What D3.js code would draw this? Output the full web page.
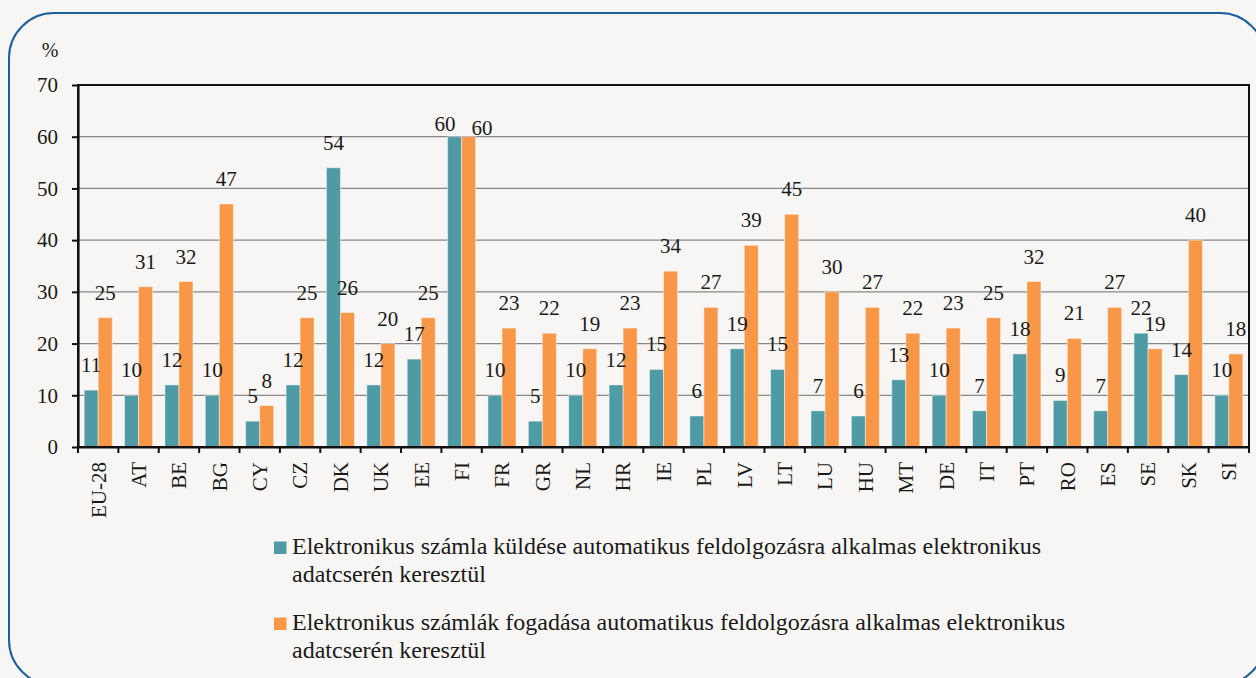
<!DOCTYPE html>
<html>
<head>
<meta charset="utf-8">
<script src="https://cdn.jsdelivr.net/npm/d3@7"></script>
<style>
  html, body { margin: 0; padding: 0; background: #f7f6f4; }
  svg { display: block; }
  svg text { font-family: 'Liberation Serif', 'DejaVu Serif', serif; fill: #1a1a1a; }
</style>
</head>
<body>
<svg id="chart" width="1256" height="678"></svg>
<script>
const categories = ["EU-28", "AT", "BE", "BG", "CY", "CZ", "DK", "UK", "EE", "FI", "FR", "GR", "NL", "HR", "IE",
  "PL", "LV", "LT", "LU", "HU", "MT", "DE", "IT", "PT", "RO", "ES", "SE", "SK", "SI"];
const sendValues = [11, 10, 12, 10, 5, 12, 54, 12, 17, 60, 10, 5, 10, 12, 15,
  6, 19, 15, 7, 6, 13, 10, 7, 18, 9, 7, 22, 14, 10];
const receiveValues = [25, 31, 32, 47, 8, 25, 26, 20, 25, 60, 23, 22, 19, 23, 34,
  27, 39, 45, 30, 27, 22, 23, 25, 32, 21, 27, 19, 40, 18];
const seriesKeys = ["send", "receive"];
const seriesLabels = [
  ["Elektronikus számla küldése automatikus feldolgozásra alkalmas elektronikus", "adatcserén keresztül"],
  ["Elektronikus számlák fogadása automatikus feldolgozásra alkalmas elektronikus", "adatcserén keresztül"]
];
const yTicks = [0, 10, 20, 30, 40, 50, 60, 70];
const unitLabel = "%";

const colors = { send: "#4f9ba5", receive: "#f89748" };
const serif = "'Liberation Serif', 'DejaVu Serif', serif";

const svg = d3.select("#chart");

// Outer rounded frame
svg.append("rect")
  .attr("x", 9).attr("y", 13)
  .attr("width", 1256).attr("height", 672)
  .attr("rx", 45).attr("ry", 45)
  .attr("fill", "#f7f6f4")
  .attr("stroke", "#1c5f9f")
  .attr("stroke-width", 2);

const margin = { top: 85, left: 78 };
const width = 1249 - margin.left;
const height = 447 - margin.top;

const g = svg.append("g")
  .attr("transform", `translate(${margin.left}, ${margin.top})`);

// Scales
const x = d3.scaleBand()
  .domain(categories)
  .range([0, width])
  .padding(0);

const xSub = d3.scaleBand()
  .domain(seriesKeys)
  .range([0, x.bandwidth()])
  .paddingInner(0)
  .paddingOuter(0.44);

const y = d3.scaleLinear()
  .domain([0, 70])
  .range([height, 0]);

// Grid lines
g.append("g")
  .selectAll("line")
  .data(yTicks.filter(d => d > 0 && d < 70))
  .enter()
  .append("line")
  .attr("x1", 0).attr("x2", width)
  .attr("y1", d => y(d)).attr("y2", d => y(d))
  .attr("stroke", "#888888")
  .attr("stroke-width", 1.3);

// Bars
const rows = categories.map((c, i) => ({ cat: c, send: sendValues[i], receive: receiveValues[i] }));

const groups = g.append("g")
  .selectAll("g")
  .data(rows)
  .enter()
  .append("g")
  .attr("transform", d => `translate(${x(d.cat)}, 0)`);

groups.selectAll("rect")
  .data(d => seriesKeys.map(k => ({ key: k, value: d[k] })))
  .enter()
  .append("rect")
  .attr("x", d => xSub(d.key))
  .attr("y", d => y(d.value))
  .attr("width", xSub.bandwidth())
  .attr("height", d => y(0) - y(d.value))
  .attr("fill", d => colors[d.key])
  .attr("stroke", "#ffffff")
  .attr("stroke-opacity", 0.45)
  .attr("stroke-width", 1);

// Value labels; when both bars are (nearly) equal the two labels are pushed apart
groups.selectAll("text")
  .data(d => {
    const tie = Math.abs(d.send - d.receive) < 2;
    return seriesKeys.map((k, i) => ({ key: k, value: d[k], tie: tie, side: i }));
  })
  .enter()
  .append("text")
  .attr("x", d => {
    const cx = xSub(d.key) + xSub.bandwidth() / 2;
    if (!d.tie) return cx;
    return d.side === 0 ? cx + 1 : cx + 3;
  })
  .attr("y", d => y(d.value) - (d.tie ? (d.side === 0 ? 6 : 2) : 18))
  .attr("text-anchor", d => d.tie ? (d.side === 0 ? "end" : "start") : "middle")
  .attr("font-size", "21px")
  .text(d => d.value);

// Plot frame (top and right)
g.append("rect")
  .attr("x", 0).attr("y", 0)
  .attr("width", width).attr("height", height)
  .attr("fill", "none")
  .attr("stroke", "#111")
  .attr("stroke-width", 2);

// Y axis
const yAxis = g.append("g")
  .call(d3.axisLeft(y).tickValues(yTicks).tickSize(6).tickSizeOuter(0).tickPadding(14));
yAxis.attr("font-family", serif);
yAxis.select(".domain").attr("stroke", "#111").attr("stroke-width", 2.2);
yAxis.selectAll(".tick line").attr("stroke", "#111").attr("stroke-width", 2);
yAxis.selectAll(".tick text")
  .attr("font-size", "21px")
  .attr("fill", "#1a1a1a");

// X axis
const xAxis = g.append("g")
  .attr("transform", `translate(0, ${height})`)
  .call(d3.axisBottom(x).tickSize(0).tickSizeOuter(0));
xAxis.attr("font-family", serif);
xAxis.select(".domain").attr("stroke", "#111").attr("stroke-width", 2.2);
xAxis.selectAll(".tick text")
  .attr("font-size", "21px")
  .attr("fill", "#1a1a1a")
  .attr("text-anchor", "end")
  .attr("transform", "rotate(-90)")
  .attr("x", -15)
  .attr("y", 0)
  .attr("dy", "0.35em");

// X boundary ticks between categories
g.append("g")
  .selectAll("line")
  .data(d3.range(categories.length + 1))
  .enter()
  .append("line")
  .attr("x1", i => i * x.step()).attr("x2", i => i * x.step())
  .attr("y1", height).attr("y2", height + 6)
  .attr("stroke", "#111")
  .attr("stroke-width", 2);

// Unit label
svg.append("text")
  .attr("x", 50).attr("y", 57)
  .attr("text-anchor", "middle")
  .attr("font-size", "20px")
  .text(unitLabel);

// Legend
const legend = svg.append("g")
  .attr("transform", "translate(274, 0)");

const legendItems = legend.selectAll("g")
  .data(seriesKeys)
  .enter()
  .append("g")
  .attr("transform", (d, i) => `translate(0, ${554 + i * 76})`);

legendItems.append("rect")
  .attr("x", 0).attr("y", -12.5)
  .attr("width", 12.5).attr("height", 12.5)
  .attr("fill", d => colors[d]);

legendItems.append("text")
  .attr("x", 18)
  .attr("font-size", "24px")
  .selectAll("tspan")
  .data((d, i) => seriesLabels[i])
  .enter()
  .append("tspan")
  .attr("x", 18)
  .attr("dy", (d, j) => j === 0 ? 0 : 27.7)
  .text(d => d);
</script>
</body>
</html>
